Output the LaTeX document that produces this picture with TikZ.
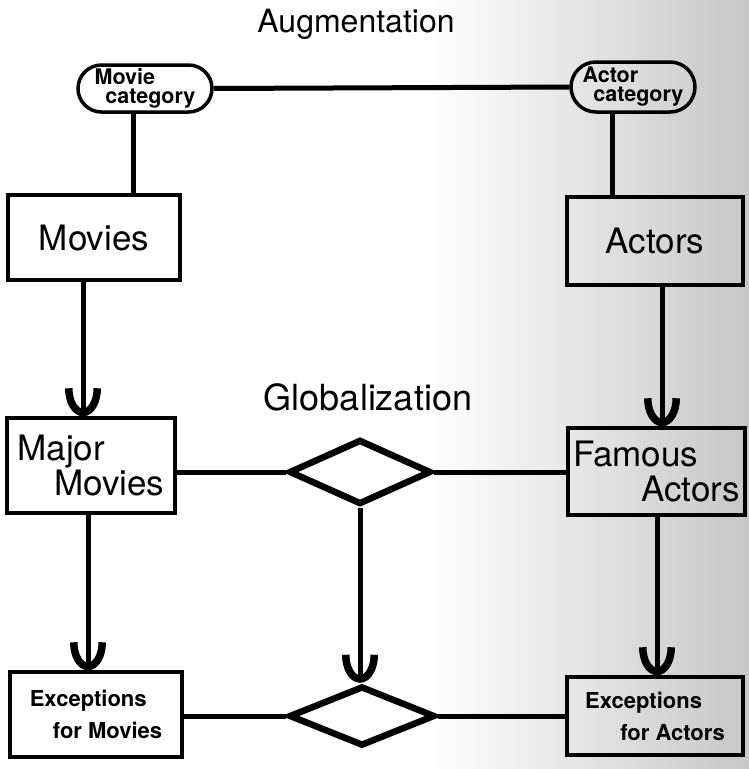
\documentclass[tikz,border=0pt]{standalone}
\usepackage{fontspec}
\setmainfont{TeX Gyre Heros}
\usetikzlibrary{
  arrows.meta,
  positioning,
  shapes.geometric,
  shapes.misc
}
\tikzset{
  box/.style={draw, line width=3.5pt, inner sep=0pt, align=left},
  cat/.style={draw, rounded rectangle, line width=3.5pt, inner sep=0pt,
    align=left, font=\fontsize{21.5}{19}\selectfont\bfseries},
  rel/.style={draw, diamond, line width=6.5pt, inner sep=0pt},
  big/.style={font=\fontsize{35}{35}\selectfont},
  small/.style={font=\fontsize{22}{32}\selectfont\bfseries},
  link/.style={line width=5pt},
  isa/.style={line width=5pt, -{Arc Barb[length=28pt, width=36pt, line width'=7.5pt]}},
}

\begin{document}
\begin{tikzpicture}[x=1pt, y=-1pt]
      \useasboundingbox (0,0) rectangle (749,769);
      \fill[white] (0,0) rectangle (749,769);
      \shade[left color=white, right color=black!22] (430,0) rectangle (749,769);

      % columns of the vertical connectors
      \coordinate (colA) at (133,0);
      \coordinate (colB) at (612,0);
      \coordinate (colC) at (83,0);
      \coordinate (colD) at (662,0);
      \coordinate (colE) at (88,0);
      \coordinate (colF) at (657,0);

      \node (aug) at (356,24) {\fontsize{32}{32}\selectfont Augmentation};
      \node (glob) at (368,397) {\fontsize{36}{36}\selectfont Globalization};

      \node (mcat) [cat, minimum width=134pt, minimum height=47pt] at (145,88.5) {
        Movie \\ \hspace{0.5em}category
      };
      \node (acat) [cat, minimum width=124pt, minimum height=50pt] at (633,87) {
        Actor \\ \hspace{0.5em}category
      };

      \node (movies) [box, big, minimum width=172pt, minimum height=85pt] at (94,237.5) {Movies};
      \node (actors) [box, big, minimum width=176pt, minimum height=88pt] at (655,241) {Actors};

      \node (major) [box, big, minimum width=168pt, minimum height=95pt] at (91,465.5) {
        Major \\ \hspace{1.05em}Movies
      };
      \node (famous) [box, big, minimum width=177pt, minimum height=87pt] at (656.5,471.5) {
        Famous \\ \hspace{1.95em}Actors
      };

      \node (exm) [box, small, minimum width=172pt, minimum height=85pt] at (96,714.5) {
        Exceptions \\ \hspace{1.05em}for Movies
      };
      \node (exa) [box, small, minimum width=176pt, minimum height=78pt] at (655,716) {
        Exceptions \\ \hspace{1.6em}for Actors
      };

      \node (rel1) [rel, minimum width=142pt, minimum height=65pt] at (360,472) {};
      \node (rel2) [rel, minimum width=146pt, minimum height=60pt] at (362,716) {};

      \draw[link] (mcat.east) -- (acat.west);
      \draw[link] (mcat.south -| colA) -- (movies.north -| colA);
      \draw[link] (acat.south -| colB) -- (actors.north -| colB);

      \draw[isa] (movies.south -| colC) -- (major.north -| colC);
      \draw[isa] (actors.south -| colD) -- (famous.north -| colD);
      \draw[isa] (major.south -| colE) -- (exm.north -| colE);
      \draw[isa] (famous.south -| colF) -- (exa.north -| colF);
      \draw[isa] (rel1.south) -- (rel1.south |- rel2.north);

      \draw[link] (major.east |- rel1.west) -- (rel1.west);
      \draw[link] (rel1.east) -- (rel1.east -| famous.west);
      \draw[link] (exm.east |- rel2.west) -- (rel2.west);
      \draw[link] (rel2.east) -- (rel2.east -| exa.west);
\end{tikzpicture}
\end{document}
